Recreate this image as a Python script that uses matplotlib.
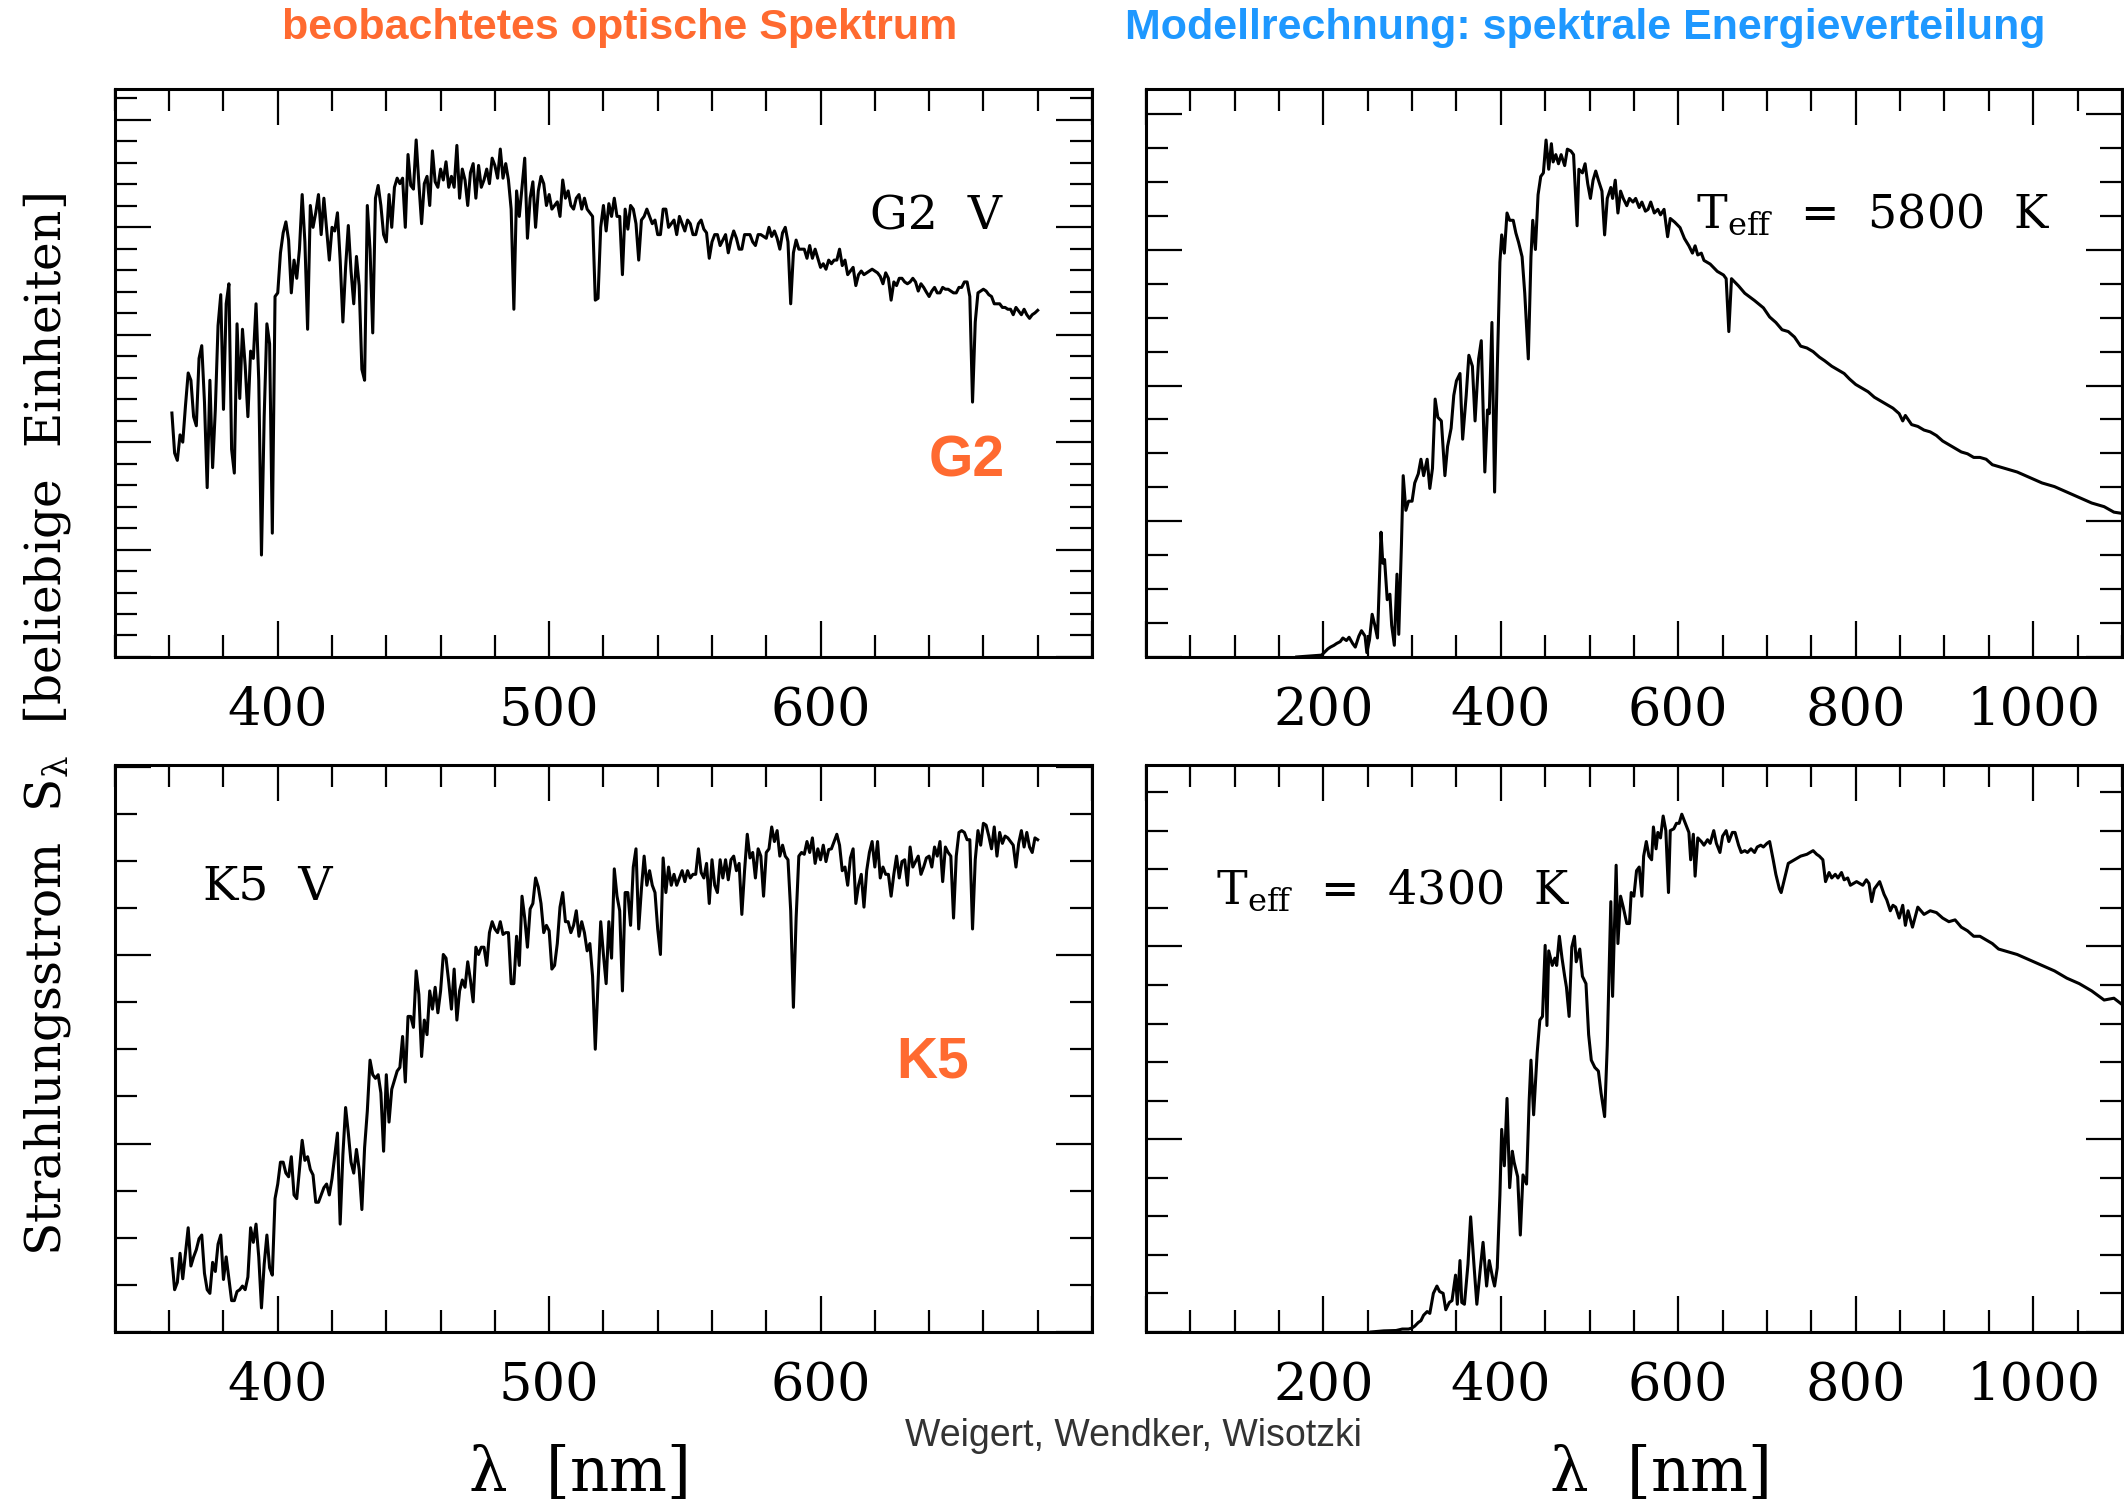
import matplotlib
matplotlib.use("Agg")
import matplotlib.pyplot as plt
from matplotlib.ticker import MultipleLocator, FuncFormatter
import numpy as np

plt.rcParams["font.family"] = "DejaVu Serif"
plt.rcParams["mathtext.fontset"] = "dejavuserif"

ORANGE = "#FF6A30"
BLUE = "#1E98FF"

# observed spectra, 1 nm grid, flux in arbitrary units
obs_lam = np.arange(361, 681)
g2_flux = [
    670, 560, 540, 610, 590, 690, 780, 760, 660, 635,
    820, 855, 700, 465, 760, 520, 680, 910, 995, 680,
    970, 1025, 570, 505, 915, 710, 900, 800, 660, 840,
    820, 970, 760, 280, 660, 915, 860, 340, 990, 1000,
    1110, 1165, 1195, 1145, 1000, 1090, 1040, 1120, 1270, 1140,
    900, 1240, 1180, 1220, 1270, 1160, 1260, 1175, 1090, 1180,
    1170, 1220, 1090, 920, 1070, 1185, 1060, 970, 1100, 1020,
    790, 760, 1240, 1120, 890, 1260, 1295, 1240, 1160, 1140,
    1270, 1180, 1290, 1315, 1300, 1315, 1180, 1380, 1295, 1285,
    1420, 1300, 1190, 1300, 1320, 1240, 1390, 1305, 1290, 1340,
    1310, 1360, 1290, 1320, 1290, 1405, 1260, 1340, 1310, 1240,
    1330, 1355, 1260, 1350, 1290, 1310, 1340, 1300, 1370, 1350,
    1315, 1395, 1315, 1355, 1310, 1230, 955, 1280, 1210, 1290,
    1370, 1150, 1260, 1305, 1180, 1280, 1320, 1300, 1240, 1270,
    1230, 1240, 1250, 1210, 1310, 1260, 1280, 1240, 1230, 1260,
    1270, 1230, 1260, 1230, 1220, 1210, 980, 985, 1180, 1240,
    1170, 1245, 1210, 1260, 1210, 1210, 1050, 1230, 1175, 1240,
    1230, 1190, 1090, 1200, 1210, 1230, 1210, 1190, 1200, 1160,
    1160, 1230, 1230, 1180, 1190, 1200, 1160, 1210, 1190, 1170,
    1200, 1190, 1160, 1160, 1190, 1200, 1175, 1165, 1095, 1140,
    1160, 1160, 1130, 1145, 1160, 1110, 1145, 1170, 1150, 1120,
    1120, 1160, 1160, 1160, 1140, 1130, 1160, 1160, 1155, 1150,
    1180, 1155, 1170, 1150, 1120, 1165, 1180, 1140, 970, 1110,
    1145, 1120, 1120, 1120, 1095, 1130, 1095, 1120, 1095, 1070,
    1080, 1065, 1090, 1080, 1090, 1090, 1120, 1075, 1090, 1050,
    1060, 1070, 1020, 1050, 1060, 1050, 1055, 1060, 1065, 1060,
    1055, 1045, 1025, 1055, 1040, 980, 1030, 1020, 1040, 1040,
    1030, 1025, 1030, 1040, 1030, 1005, 1025, 1015, 1002, 990,
    1005, 1015, 1000, 1000, 1015, 1010, 1010, 1005, 1000, 1000,
    1015, 1015, 1030, 1030, 990, 700, 920, 1000, 1005, 1010,
    1005, 995, 990, 970, 970, 970, 960, 960, 955, 955,
    940, 960, 950, 940, 955, 940, 930, 940, 945, 952,
]
k5_flux = [
    201, 116, 136, 216, 146, 216, 286, 181, 206, 226,
    256, 266, 161, 116, 106, 191, 166, 241, 266, 144,
    206, 146, 86, 86, 111, 116, 126, 116, 151, 286,
    246, 296, 206, 66, 186, 266, 176, 156, 366, 406,
    466, 466, 436, 426, 481, 376, 366, 446, 526, 471,
    481, 446, 431, 356, 356, 376, 396, 406, 376, 421,
    484, 546, 296, 486, 616, 546, 466, 436, 501, 446,
    336, 506, 606, 746, 706, 696, 706, 656, 496, 706,
    576, 666, 691, 716, 726, 811, 686, 866, 866, 836,
    991, 926, 756, 856, 816, 936, 886, 946, 876, 936,
    1036, 1026, 961, 886, 996, 856, 936, 966, 946, 1016,
    966, 906, 1056, 1036, 1056, 1056, 1006, 1096, 1126, 1106,
    1096, 1126, 1091, 1096, 1096, 956, 956, 1086, 1006, 1196,
    1136, 1056, 1161, 1176, 1246, 1221, 1176, 1096, 1116, 1101,
    996, 1006, 1066, 1166, 1206, 1126, 1126, 1096, 1116, 1156,
    1086, 1126, 1096, 1046, 1066, 976, 776, 956, 1126, 1036,
    956, 1126, 1026, 1271, 1196, 1156, 936, 1206, 1206, 1116,
    1276, 1326, 1106, 1216, 1306, 1226, 1266, 1226, 1206, 1106,
    1036, 1301, 1206, 1276, 1226, 1256, 1226, 1246, 1266, 1236,
    1266, 1246, 1256, 1256, 1326, 1261, 1246, 1286, 1176, 1296,
    1226, 1206, 1296, 1246, 1296, 1241, 1296, 1306, 1266, 1286,
    1146, 1266, 1366, 1301, 1316, 1246, 1326, 1306, 1196, 1316,
    1326, 1386, 1346, 1376, 1306, 1336, 1306, 1296, 1156, 891,
    1136, 1306, 1316, 1311, 1346, 1316, 1356, 1286, 1326, 1296,
    1336, 1291, 1324, 1326, 1346, 1366, 1336, 1266, 1276, 1226,
    1301, 1326, 1176, 1226, 1256, 1166, 1266, 1316, 1346, 1276,
    1346, 1246, 1276, 1256, 1256, 1196, 1256, 1306, 1246, 1291,
    1296, 1226, 1331, 1276, 1291, 1306, 1256, 1276, 1301, 1306,
    1276, 1331, 1306, 1346, 1236, 1331, 1316, 1306, 1136, 1306,
    1371, 1376, 1371, 1351, 1351, 1106, 1296, 1376, 1336, 1396,
    1391, 1361, 1326, 1386, 1306, 1371, 1341, 1361, 1356, 1346,
    1336, 1276, 1341, 1376, 1331, 1371, 1331, 1316, 1356, 1351,
]

# model spectra (spectral energy distribution)
sed5800_lam = [
    170, 198, 205, 208, 212, 215, 219, 222, 226, 229, 233, 236, 240, 243, 247,
    249, 252, 255, 258, 261, 265, 267, 269, 272, 275, 277, 280, 283, 285, 288,
    290, 293, 296, 300, 303, 307, 310, 313, 317, 320, 323, 326, 329, 333, 337,
    340, 344, 347, 350, 354, 357, 361, 364, 368, 371, 375, 378, 382, 385, 387,
    390, 393, 396, 399, 401, 404, 407, 410, 414, 417, 420, 424, 427, 431, 434,
    436, 439, 442, 445, 448, 451, 454, 457, 459, 462, 465, 468, 472, 475, 479,
    482, 486, 488, 492, 495, 498, 501, 504, 507, 510, 514, 517, 520, 524, 526,
    529, 532, 535, 538, 542, 545, 549, 552, 556, 559, 563, 566, 569, 573, 577,
    580, 584, 588, 591, 596, 602, 607, 612, 616, 619, 622, 626, 629, 636, 644,
    651, 654, 657, 660, 668, 675, 686, 696, 703, 710, 717, 724, 731, 738, 745,
    752, 759, 765, 773, 780, 787, 793, 800, 807, 814, 821, 828, 835, 842, 849,
    853, 856, 863, 870, 877, 884, 891, 898, 905, 912, 919, 926, 933, 940, 947,
    954, 968, 982, 996, 1010, 1024, 1038, 1052, 1066, 1080, 1091, 1099,
]
sed5800_flux = [
    0, 5, 22, 27, 32, 37, 42, 52, 45, 54, 37, 27, 57, 72, 57,
    12, 47, 117, 87, 52, 342, 257, 267, 157, 172, 87, 32, 227, 62, 307,
    497, 402, 427, 427, 477, 502, 542, 497, 542, 462, 517, 707, 657, 647, 497,
    577, 627, 717, 757, 777, 597, 717, 827, 797, 647, 817, 867, 507, 677, 667,
    917, 452, 787, 1082, 1157, 1107, 1217, 1197, 1197, 1162, 1137, 1097, 997, 817, 1097,
    1197, 1117, 1267, 1317, 1327, 1417, 1337, 1407, 1357, 1377, 1352, 1377, 1347, 1392, 1387,
    1377, 1182, 1337, 1327, 1352, 1297, 1257, 1307, 1332, 1307, 1277, 1157, 1257, 1287, 1257,
    1307, 1217, 1277, 1257, 1237, 1257, 1247, 1257, 1232, 1247, 1222, 1227, 1247, 1217, 1227,
    1212, 1227, 1152, 1202, 1192, 1177, 1147, 1127, 1107, 1127, 1102, 1107, 1087, 1077, 1057,
    1047, 1037, 892, 1037, 1017, 997, 977, 957, 932, 917, 897, 892, 877, 852, 847,
    837, 822, 812, 797, 787, 777, 762, 747, 737, 727, 712, 702, 692, 682, 667,
    647, 662, 637, 632, 622, 617, 607, 592, 582, 572, 562, 557, 547, 547, 542,
    527, 517, 507, 492, 477, 467, 452, 437, 422, 412, 397, 394,
]
sed4300_lam = [
    254, 268, 282, 289, 296, 300, 303, 307, 310, 313, 317, 320, 324, 328, 331,
    335, 338, 342, 345, 349, 351, 354, 356, 359, 363, 366, 370, 373, 377, 380,
    384, 387, 391, 393, 396, 399, 401, 404, 407, 410, 413, 415, 419, 422, 425,
    429, 432, 434, 437, 441, 444, 447, 450, 452, 454, 458, 461, 463, 466, 469,
    472, 474, 477, 480, 483, 485, 489, 492, 496, 499, 502, 506, 510, 513, 517,
    520, 524, 526, 530, 532, 535, 538, 542, 545, 547, 550, 553, 556, 559, 561,
    564, 567, 570, 572, 575, 577, 580, 583, 586, 589, 591, 595, 598, 601, 604,
    608, 612, 614, 617, 619, 622, 626, 629, 633, 636, 640, 643, 647, 650, 654,
    657, 661, 664, 668, 671, 675, 678, 682, 686, 689, 693, 696, 700, 703, 707,
    710, 714, 716, 719, 722, 724, 731, 738, 745, 752, 756, 759, 763, 766, 770,
    773, 777, 780, 784, 787, 791, 794, 801, 808, 812, 815, 818, 821, 827, 832,
    835, 839, 842, 845, 849, 853, 856, 859, 864, 870, 877, 884, 891, 898, 905,
    912, 919, 926, 933, 940, 947, 954, 961, 968, 975, 982, 996, 1010, 1024, 1038,
    1052, 1066, 1080, 1091, 1099,
]
sed4300_flux = [
    0, 3, 4, 8, 8, 11, 16, 26, 31, 46, 56, 51, 106, 126, 111,
    106, 61, 81, 86, 156, 76, 196, 81, 76, 186, 316, 176, 76, 176, 246,
    126, 196, 146, 126, 176, 376, 556, 456, 641, 396, 496, 466, 426, 266, 431,
    406, 636, 746, 596, 766, 856, 866, 1061, 841, 1046, 1006, 1026, 1006, 1086, 1026,
    976, 946, 866, 1056, 1086, 1016, 1051, 976, 956, 816, 746, 726, 716, 656, 591,
    786, 1181, 921, 1281, 1066, 1196, 1166, 1121, 1121, 1206, 1196, 1266, 1276, 1196, 1306,
    1346, 1306, 1296, 1386, 1326, 1371, 1356, 1416, 1376, 1206, 1376, 1381, 1396, 1396, 1421,
    1396, 1371, 1296, 1366, 1251, 1356, 1346, 1336, 1351, 1341, 1376, 1341, 1316, 1361, 1376,
    1346, 1371, 1371, 1336, 1316, 1321, 1316, 1326, 1316, 1331, 1336, 1331, 1341, 1346, 1296,
    1256, 1216, 1206, 1236, 1266, 1286, 1296, 1306, 1311, 1321, 1311, 1306, 1296, 1236, 1261,
    1246, 1256, 1246, 1261, 1241, 1246, 1226, 1236, 1226, 1241, 1231, 1181, 1216, 1236, 1201,
    1186, 1156, 1171, 1166, 1136, 1171, 1116, 1156, 1111, 1166, 1146, 1156, 1151, 1136, 1126,
    1131, 1111, 1101, 1086, 1086, 1076, 1066, 1051, 1046, 1041, 1036, 1021, 1006, 991, 971,
    956, 936, 911, 916, 901,
]


def style_axes(ax, xlim, xmajor, xminor, ytop, ymajor, yminor):
    ax.set_xlim(*xlim)
    ax.set_ylim(0, ytop)
    ax.xaxis.set_major_locator(MultipleLocator(xmajor))
    ax.xaxis.set_minor_locator(MultipleLocator(xminor))
    ax.yaxis.set_major_locator(MultipleLocator(ymajor))
    ax.yaxis.set_minor_locator(MultipleLocator(yminor))
    # no numbers at the frame edges
    lo, hi = xlim
    ax.xaxis.set_major_formatter(FuncFormatter(
        lambda v, pos: "" if abs(v - lo) < 1e-6 or abs(v - hi) < 1e-6 else f"{v:.0f}"))
    ax.tick_params(which="both", direction="in", top=True, right=True,
                   width=1.6, labelleft=False, labelsize=38, pad=20)
    ax.tick_params(which="major", length=26)
    ax.tick_params(which="minor", length=16)
    for sp in ax.spines.values():
        sp.set_linewidth(2.2)


fig = plt.figure(figsize=(21.24, 15.03), dpi=100)
ax_g2 = fig.add_axes([0.0541, 0.5629, 0.4600, 0.3779])
ax_m58 = fig.add_axes([0.5395, 0.5629, 0.4595, 0.3779])
ax_k5 = fig.add_axes([0.0541, 0.1138, 0.4600, 0.3772])
ax_m43 = fig.add_axes([0.5395, 0.1138, 0.4595, 0.3772])

for ax, lam, flux in [(ax_g2, obs_lam, g2_flux), (ax_k5, obs_lam, k5_flux),
                      (ax_m58, sed5800_lam, sed5800_flux),
                      (ax_m43, sed4300_lam, sed4300_flux)]:
    ax.plot(lam, flux, color="black", lw=2.2)

style_axes(ax_g2, (340, 700), 100, 20, 1560, 295, 59)
style_axes(ax_k5, (340, 700), 100, 20, 1556, 517, 129.25)
style_axes(ax_m58, (0, 1100), 200, 50, 1557, 372, 93)
style_axes(ax_m43, (0, 1100), 200, 50, 1556, 529, 105.8)

# panel annotations
ax_g2.text(0.908, 0.775, "G2  V", transform=ax_g2.transAxes, ha="right",
           va="center", fontsize=34)
ax_g2.text(0.911, 0.345, "G2", transform=ax_g2.transAxes, ha="right",
           va="center", fontsize=41, fontweight="bold", color=ORANGE,
           family="Liberation Sans")
ax_k5.text(0.09, 0.785, "K5  V", transform=ax_k5.transAxes, ha="left",
           va="center", fontsize=34)
ax_k5.text(0.80, 0.475, "K5", transform=ax_k5.transAxes, ha="left",
           va="center", fontsize=41, fontweight="bold", color=ORANGE,
           family="Liberation Sans")
ax_m58.text(0.564, 0.756, r"T$_{\mathrm{eff}}$  =  5800  K",
            transform=ax_m58.transAxes, ha="left", va="baseline", fontsize=33)
ax_m43.text(0.072, 0.756, r"T$_{\mathrm{eff}}$  =  4300  K",
            transform=ax_m43.transAxes, ha="left", va="baseline", fontsize=33)

# titles, axis labels, credit
fig.text(0.2919, 0.9814, "beobachtetes optische Spektrum", ha="center",
         va="center", fontsize=31, fontweight="bold", color=ORANGE,
         family="Liberation Sans")
fig.text(0.7462, 0.9814, "Modellrechnung: spektrale Energieverteilung",
         ha="center", va="center", fontsize=31, fontweight="bold", color=BLUE,
         family="Liberation Sans")
for xc in (0.272, 0.781):
    fig.text(xc, 0.0193, r"$\mathrm{\lambda}$  [nm]", ha="center",
             va="center", fontsize=44)
fig.text(0.0221, 0.5176,
         r"Strahlungsstrom  S$_{\mathrm{\lambda}}$  [beliebige  Einheiten]",
         rotation=90, ha="center", va="center", fontsize=35)
fig.text(0.5334, 0.0446, "Weigert, Wendker, Wisotzki", ha="center",
         va="center", fontsize=27, color="#333333", family="Liberation Sans")

fig.savefig("out.png", dpi=100)
